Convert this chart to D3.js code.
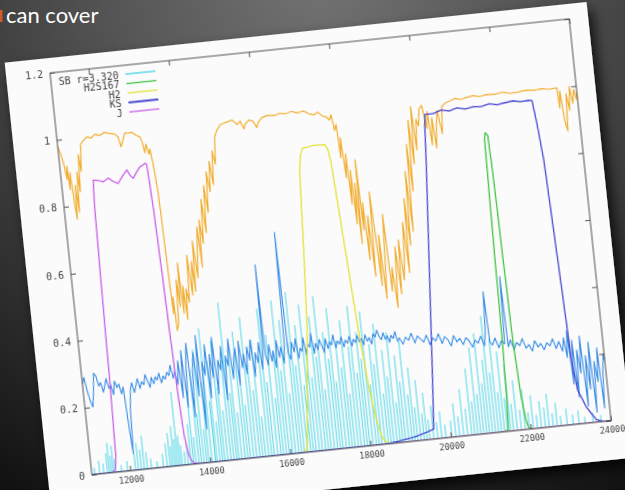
<!DOCTYPE html>
<html>
<head>
<meta charset="utf-8">
<script src="https://cdn.jsdelivr.net/npm/d3@7"></script>
<style>
  html, body { margin: 0; padding: 0; background: #2b2b2b; }
  svg { display: block; }
</style>
</head>
<body>
<div id="chart"></div>
<script>
// ---- data (wavelength in Angstrom, transmission) ----
const xTicks = [12000, 14000, 16000, 18000, 20000, 22000, 24000];
const xTickLabels = ['12000', '14000', '16000', '18000', '20000', '22000', '24000'];
const yTicks = [0, 0.2, 0.4, 0.6, 0.8, 1, 1.2];
const yTickLabels = ['0', '0.2', '0.4', '0.6', '0.8', '1', '1.2'];
const legendLabels = ['SB r=3.320', 'H2S167', 'H2', 'KS', 'J'];

// atmospheric transmission (orange)
const atmosphere = [
  [11040,0.98],[11090,0.96],[11140,0.93],[11190,0.88],[11215,0.92],[11240,0.85],[11275,0.9],[11315,0.8],
  [11340,0.76],[11375,0.86],[11410,0.78],[11450,0.9],[11485,0.84],[11525,0.95],[11560,0.9],[11610,0.98],
  [11685,0.99],[11785,1.0],[11885,0.995],[11985,1.005],[12110,1.0],[12230,1.008],[12355,1.003],[12480,1.0],
  [12555,0.99],[12605,0.96],[12655,0.975],[12730,1.0],[12805,0.998],[12900,1.0],[13000,0.99],[13100,0.983],
  [13150,0.96],[13175,0.935],[13225,0.96],[13275,0.93],[13310,0.945],[13350,0.9],[13400,0.82],[13425,0.7],
  [13450,0.55],[13475,0.45],[13500,0.5],[13525,0.4],[13575,0.42],[13620,0.55],[13660,0.47],[13695,0.6],
  [13735,0.45],[13770,0.53],[13810,0.43],[13845,0.52],[13895,0.48],[13945,0.62],[13995,0.5],[14045,0.6],
  [14080,0.51],[14120,0.66],[14170,0.55],[14220,0.63],[14270,0.7],[14305,0.58],[14340,0.72],[14390,0.65],
  [14440,0.78],[14490,0.68],[14540,0.82],[14590,0.74],[14640,0.86],[14690,0.8],[14740,0.89],[14790,0.82],
  [14840,0.92],[14890,0.88],[14940,0.96],[15015,0.98],[15110,0.995],[15260,1.0],[15410,1.005],[15535,0.99],
  [15610,1.0],[15685,0.975],[15735,0.99],[15830,1.0],[15930,0.995],[16005,0.975],[16055,0.99],[16155,1.003],
  [16305,1.008],[16455,1.005],[16600,1.01],[16750,1.007],[16900,1.012],[17050,1.006],[17200,1.01],[17320,1.0],
  [17445,0.995],[17545,1.002],[17645,0.99],[17745,0.985],[17820,0.975],[17870,0.99],[17920,0.943],[17970,0.96],
  [18005,0.86],[18040,0.92],[18090,0.8],[18130,0.87],[18165,0.72],[18205,0.82],[18240,0.66],[18280,0.78],
  [18315,0.6],[18350,0.85],[18390,0.64],[18425,0.72],[18465,0.55],[18515,0.68],[18565,0.5],[18615,0.75],
  [18665,0.6],[18700,0.47],[18735,0.62],[18785,0.43],[18835,0.55],[18885,0.68],[18935,0.45],[18985,0.52],
  [19035,0.4],[19075,0.5],[19110,0.58],[19160,0.44],[19210,0.6],[19260,0.48],[19310,0.54],[19360,0.65],
  [19410,0.5],[19455,0.72],[19505,0.58],[19555,0.8],[19605,0.62],[19655,0.88],[19705,0.74],[19755,0.95],
  [19805,0.82],[19855,0.99],[19905,0.86],[19955,0.95],[20005,0.93],[20055,0.98],[20130,0.99],[20205,0.92],
  [20250,0.97],[20300,0.87],[20350,0.95],[20400,0.86],[20450,0.93],[20500,0.97],[20575,0.9],[20625,0.98],
  [20725,0.99],[20850,0.995],[20970,1.0],[21120,0.995],[21270,1.0],[21420,1.003],[21595,0.998],[21765,1.002],
  [21965,1.0],[22165,1.004],[22360,0.998],[22560,1.0],[22760,1.003],[22960,1.0],[23155,1.002],[23330,0.998],
  [23455,1.0],[23515,1.0],[23540,0.94],[23580,0.99],[23630,0.9],[23680,0.87],[23730,0.98],[23780,0.93],
  [23825,1.0],[23875,0.95],[23925,0.99],[23975,0.96],[24000,0.98]
];

// noisy blue curve
const seeing = [
  [11040,0.27],[11090,0.29],[11140,0.25],[11190,0.22],[11240,0.2],[11290,0.24],[11340,0.3],[11390,0.29],
  [11440,0.26],[11490,0.27],[11540,0.24],[11590,0.26],[11635,0.28],[11685,0.25],[11735,0.26],[11785,0.23],
  [11835,0.27],[11885,0.25],[11935,0.26],[11985,0.23],[12035,0.25],[12085,0.12],[12120,0.05],[12160,0.18],
  [12210,0.24],[12255,0.26],[12305,0.23],[12355,0.25],[12405,0.27],[12455,0.24],[12505,0.26],[12555,0.25],
  [12605,0.28],[12655,0.26],[12705,0.24],[12755,0.27],[12805,0.25],[12855,0.27],[12900,0.26],[12950,0.28],
  [13000,0.25],[13050,0.27],[13100,0.26],[13150,0.28],[13200,0.27],[13250,0.3],[13300,0.26],[13350,0.28],
  [13400,0.24],[13450,0.31],[13500,0.2],[13550,0.34],[13600,0.17],[13645,0.3],[13695,0.36],[13745,0.14],
  [13795,0.28],[13845,0.33],[13895,0.2],[13945,0.38],[13995,0.1],[14045,0.3],[14095,0.26],[14145,0.35],
  [14195,0.19],[14245,0.32],[14295,0.25],[14340,0.37],[14390,0.2],[14440,0.3],[14490,0.27],[14540,0.34],
  [14590,0.18],[14640,0.31],[14690,0.28],[14740,0.36],[14790,0.24],[14840,0.3],[14890,0.33],[14940,0.22],
  [14990,0.35],[15040,0.27],[15090,0.31],[15140,0.25],[15185,0.33],[15235,0.29],[15285,0.35],[15335,0.24],
  [15385,0.31],[15435,0.28],[15485,0.34],[15535,0.26],[15585,0.32],[15610,0.57],[15635,0.3],[15685,0.27],
  [15735,0.33],[15785,0.28],[15830,0.31],[15880,0.26],[15930,0.34],[15980,0.29],[16030,0.32],[16080,0.27],
  [16130,0.33],[16170,0.66],[16205,0.3],[16255,0.28],[16305,0.33],[16355,0.3],[16405,0.34],[16455,0.28],
  [16505,0.31],[16550,0.3],[16600,0.34],[16650,0.29],[16700,0.32],[16750,0.31],[16800,0.35],[16850,0.29],
  [16900,0.32],[16950,0.3],[17000,0.33],[17050,0.31],[17100,0.29],[17150,0.33],[17200,0.3],[17250,0.32],
  [17295,0.31],[17345,0.34],[17395,0.3],[17445,0.32],[17495,0.31],[17545,0.33],[17595,0.3],[17645,0.32],
  [17695,0.31],[17745,0.33],[17795,0.3],[17845,0.32],[17895,0.31],[17945,0.33],[17990,0.31],[18040,0.32],
  [18090,0.3],[18140,0.33],[18190,0.31],[18240,0.32],[18290,0.3],[18340,0.33],[18390,0.32],[18440,0.34],
  [18490,0.32],[18540,0.31],[18590,0.33],[18640,0.31],[18690,0.32],[18735,0.3],[18785,0.32],[18835,0.31],
  [18885,0.33],[18935,0.3],[18985,0.31],[19060,0.29],[19135,0.31],[19210,0.3],[19285,0.32],[19360,0.29],
  [19430,0.31],[19505,0.3],[19580,0.29],[19655,0.31],[19730,0.28],[19805,0.3],[19880,0.29],[19955,0.31],
  [20030,0.28],[20105,0.3],[20175,0.29],[20250,0.27],[20325,0.3],[20400,0.28],[20475,0.29],[20550,0.27],
  [20625,0.29],[20700,0.28],[20775,0.26],[20850,0.28],[20920,0.27],[20995,0.29],[21070,0.26],[21120,0.3],
  [21170,0.42],[21210,0.27],[21270,0.26],[21345,0.28],[21420,0.25],[21495,0.27],[21570,0.26],[21620,0.46],
  [21655,0.25],[21720,0.27],[21790,0.24],[21865,0.26],[21940,0.25],[22015,0.27],[22090,0.24],[22165,0.25],
  [22240,0.23],[22315,0.26],[22390,0.24],[22460,0.25],[22535,0.23],[22610,0.25],[22685,0.24],[22760,0.26],
  [22835,0.23],[22910,0.25],[22985,0.22],[23035,0.26],[23085,0.2],[23130,0.28],[23180,0.12],[23230,0.25],
  [23280,0.08],[23330,0.22],[23380,0.15],[23430,0.26],[23480,0.05],[23530,0.2],[23580,0.1],[23630,0.24],
  [23680,0.03],[23730,0.18],[23780,0.12],[23830,0.22],[23875,0.04],[23925,0.15],[23975,0.2],[24000,0.18]
];

// sky emission lines (SB): wavelength, peak
const skyLines = [
  [11115,0.02],[11240,0.04],[11340,0.03],[11435,0.06],[11485,0.09],[11535,0.05],[11585,0.08],[11635,0.04],
  [11785,0.02],[11935,0.03],[12135,0.05],[12205,0.08],[12280,0.06],[12355,0.1],[12430,0.05],[12530,0.03],
  [12680,0.02],[12830,0.04],[12925,0.07],[13000,0.1],[13050,0.06],[13100,0.12],[13150,0.08],[13200,0.22],
  [13250,0.09],[13300,0.06],[13375,0.04],
  [13450,0.06],[13525,0.12],[13590,0.2],[13645,0.08],[13720,0.28],[13780,0.15],[13845,0.34],[13915,0.1],
  [13970,0.24],[14045,0.4],[14130,0.18],[14170,0.3],[14245,0.12],[14310,0.36],[14365,0.22],[14440,0.15],
  [14520,0.3],[14590,0.47],[14660,0.2],[14715,0.33],[14790,0.14],[14870,0.38],[14940,0.25],[15005,0.16],
  [15085,0.42],[15160,0.28],[15240,0.2],[15310,0.35],[15380,0.12],[15460,0.3],[15535,0.44],[15600,0.22],
  [15685,0.36],[15765,0.17],[15830,0.31],[15905,0.46],[15975,0.25],[16055,0.4],[16130,0.18],[16210,0.33],
  [16280,0.48],[16350,0.26],[16430,0.38],[16510,0.2],[16575,0.44],[16645,0.3],[16725,0.22],[16800,0.4],
  [16880,0.28],[16950,0.46],[17020,0.18],[17100,0.35],[17180,0.27],[17250,0.42],[17315,0.2],[17395,0.32],
  [17475,0.24],[17545,0.38],[17615,0.16],[17695,0.3],[17770,0.42],[17850,0.22],[17920,0.34],[17985,0.26],
  [18065,0.4],[18145,0.18],[18215,0.3],[18285,0.24],[18365,0.36],[18445,0.15],[18515,0.28],[18585,0.2],
  [18665,0.33],[18740,0.12],[18810,0.26],[18880,0.18],[18960,0.3],[19040,0.14],[19110,0.22],[19180,0.1],
  [19260,0.18],[19340,0.08],[19410,0.14],[19480,0.06],[19580,0.1],[19680,0.05],[19780,0.08],[19880,0.04],
  [20030,0.05],[20130,0.1],[20225,0.06],[20325,0.14],[20425,0.08],[20525,0.2],[20600,0.1],[20675,0.26],
  [20750,0.12],[20825,0.3],[20900,0.15],[20970,0.22],[21045,0.35],[21120,0.18],[21195,0.28],[21270,0.12],
  [21345,0.24],[21420,0.1],[21495,0.2],[21570,0.08],[21665,0.15],[21765,0.06],[21865,0.12],[21965,0.05],
  [22065,0.1],[22165,0.04],[22265,0.08],[22365,0.06],[22460,0.1],[22560,0.04],[22660,0.07],[22760,0.03],
  [22910,0.05],[23060,0.03],[23205,0.04],[23355,0.02],[23555,0.03],[23755,0.02]
];

// filter curves
const filterH2S1 = [
  [11040,0],[21300,0],[21440,0.005],[21480,0.1],[21520,0.27],[21560,0.6],[21600,0.87],[21630,0.89],
  [21660,0.885],[21690,0.88],[21720,0.75],[21750,0.5],[21780,0.27],[21840,0.1],[21900,0.03],[21950,0.005],
  [22050,0],[24000,0]
];
const filterH2 = [
  [11040,0],[16300,0],[16430,0.01],[16550,0.15],[16730,0.36],[16850,0.6],[16950,0.83],[17010,0.88],
  [17080,0.9],[17200,0.902],[17350,0.905],[17500,0.905],[17650,0.903],[17700,0.89],[17750,0.85],[17870,0.6],
  [17990,0.35],[18100,0.18],[18200,0.08],[18310,0.02],[18420,0.003],[18550,0],[24000,0]
];
const filterJ = [
  [11040,0],[11550,0],[11640,0.01],[11680,0.05],[11720,0.25],[11760,0.55],[11800,0.8],[11832,0.87],
  [11950,0.868],[12073,0.862],[12207,0.872],[12320,0.86],[12440,0.853],[12560,0.872],[12684,0.89],[12760,0.872],
  [12823,0.863],[12920,0.88],[13019,0.895],[13100,0.9],[13153,0.904],[13190,0.9],[13210,0.86],[13250,0.75],
  [13290,0.58],[13330,0.39],[13370,0.22],[13420,0.09],[13470,0.04],[13520,0.015],[13600,0.003],[13800,0],
  [24000,0]
];
const filterKs = [
  [11040,0],[18400,0],[18700,0.005],[19100,0.012],[19400,0.022],[19600,0.03],[19700,0.18],[19800,0.34],
  [19900,0.5],[20000,0.66],[20100,0.82],[20160,0.93],[20190,0.962],[20400,0.962],[20600,0.97],[20800,0.965],
  [21000,0.972],[21200,0.966],[21400,0.97],[21600,0.968],[21800,0.974],[22000,0.969],[22200,0.972],[22400,0.975],
  [22600,0.97],[22800,0.972],[22870,0.97],[22935,0.9],[23010,0.79],[23095,0.5],[23180,0.19],[23255,0.1],
  [23425,0.048],[23640,0.008],[23830,0],[24000,0]
];

// ---- layout ----
const W = 625, H = 490;
const plotW = 522, plotH = 404;
const originX = 50, originY = 73, tilt = -5.95;

const colors = {
  sky: '#3fd4e6',
  seeing: '#3a8de6',
  atmosphere: '#f2ae30',
  h2s1: '#3fc43f',
  h2: '#e2e236',
  ks: '#4646d2',
  j: '#c95fe9'
};

const x = d3.scaleLinear().domain([11040, 24000]).range([0, plotW]);
const y = d3.scaleLinear().domain([0, 1.2]).range([plotH, 0]);

const svg = d3.select('#chart').append('svg')
  .attr('width', W)
  .attr('height', H);

const defs = svg.append('defs');

const bg = defs.append('radialGradient')
  .attr('id', 'bg')
  .attr('gradientUnits', 'userSpaceOnUse')
  .attr('cx', 320).attr('cy', -30).attr('r', 600);
bg.append('stop').attr('offset', 0).attr('stop-color', '#747474');
bg.append('stop').attr('offset', 0.35).attr('stop-color', '#555555');
bg.append('stop').attr('offset', 0.7).attr('stop-color', '#323232');
bg.append('stop').attr('offset', 1).attr('stop-color', '#121212');

defs.append('filter').attr('id', 'shadow')
  .attr('x', '-10%').attr('y', '-10%').attr('width', '125%').attr('height', '130%')
  .append('feDropShadow')
    .attr('dx', 4).attr('dy', 8).attr('stdDeviation', 7)
    .attr('flood-color', '#000').attr('flood-opacity', 0.85);

defs.append('filter').attr('id', 'soft')
  .append('feGaussianBlur').attr('stdDeviation', 0.45);

defs.append('clipPath').attr('id', 'plotclip')
  .append('rect').attr('width', plotW).attr('height', plotH);

svg.append('rect').attr('width', W).attr('height', H).attr('fill', 'url(#bg)');

// slide title
svg.append('rect').attr('x', 0).attr('y', 10).attr('width', 2.5).attr('height', 12).attr('fill', '#cf5a2e');
svg.append('text')
  .attr('x', 6).attr('y', 23)
  .attr('font-family', 'Lato, "Open Sans", sans-serif')
  .attr('font-size', 22)
  .attr('fill', '#ffffff')
  .text('can cover');

// tilted sheet of paper
const sheet = svg.append('g')
  .attr('transform', `translate(${originX},${originY}) rotate(${tilt})`);

sheet.append('rect')
  .attr('x', -44).attr('y', -15)
  .attr('width', 585).attr('height', 458)
  .attr('fill', '#fbfbfb')
  .attr('filter', 'url(#shadow)');

const g = sheet.append('g').attr('filter', 'url(#soft)');

const plot = g.append('g').attr('clip-path', 'url(#plotclip)');
const line = d3.line().x(d => x(d[0])).y(d => y(d[1]));

// sky lines as needles
plot.append('g').selectAll('line')
  .data(skyLines)
  .enter().append('line')
    .attr('x1', d => x(d[0])).attr('x2', d => x(d[0]))
    .attr('y1', y(0)).attr('y2', d => y(d[1]))
    .attr('stroke', colors.sky)
    .attr('stroke-width', 1)
    .attr('opacity', 0.9);

const series = [
  { data: seeing, color: colors.seeing, w: 1.1 },
  { data: atmosphere, color: colors.atmosphere, w: 1.2 },
  { data: filterH2, color: colors.h2, w: 1.3 },
  { data: filterH2S1, color: colors.h2s1, w: 1.3 },
  { data: filterJ, color: colors.j, w: 1.3 },
  { data: filterKs, color: colors.ks, w: 1.3 }
];

plot.selectAll('path.series')
  .data(series)
  .enter().append('path')
    .attr('class', 'series')
    .attr('d', d => line(d.data))
    .attr('fill', 'none')
    .attr('stroke', d => d.color)
    .attr('stroke-width', d => d.w)
    .attr('stroke-linejoin', 'round');

// axes (gnuplot style: inward ticks mirrored on all sides)
const tickFont = '"DejaVu Sans Mono", "Liberation Mono", monospace';

const yAxis = g.append('g')
  .call(d3.axisLeft(y).tickValues(yTicks).tickFormat((d, i) => yTickLabels[i]).tickSize(-5).tickPadding(7));
const yAxisR = g.append('g').attr('transform', `translate(${plotW},0)`)
  .call(d3.axisRight(y).tickValues(yTicks).tickFormat('').tickSize(-5));
const xAxis = g.append('g').attr('transform', `translate(0,${plotH})`)
  .call(d3.axisBottom(x).tickValues(xTicks).tickFormat((d, i) => xTickLabels[i]).tickSize(-5).tickPadding(6));
const xAxisT = g.append('g')
  .call(d3.axisTop(x).tickValues(xTicks).tickFormat('').tickSize(-5));

[yAxis, yAxisR, xAxis, xAxisT].forEach(a => {
  a.select('.domain').remove();
  a.selectAll('line').attr('stroke', '#555');
  a.selectAll('text').attr('fill', '#444').attr('font-family', tickFont);
});
yAxis.selectAll('text').attr('font-size', 10);
xAxis.selectAll('text').attr('font-size', 8.5);

g.append('rect')
  .attr('width', plotW).attr('height', plotH)
  .attr('fill', 'none')
  .attr('stroke', '#555')
  .attr('stroke-width', 1);

// legend
const legendColors = [colors.sky, colors.h2s1, colors.h2, colors.ks, colors.j];
const lg = g.append('g').selectAll('g')
  .data(legendLabels)
  .enter().append('g')
    .attr('transform', (d, i) => `translate(0,${9 + i * 9.5})`);

lg.append('text')
  .attr('x', 68)
  .attr('dy', '0.35em')
  .attr('text-anchor', 'end')
  .attr('font-family', tickFont)
  .attr('font-size', 10)
  .attr('fill', '#444')
  .text(d => d);

lg.append('line')
  .attr('x1', 75).attr('x2', 105)
  .attr('stroke', (d, i) => legendColors[i])
  .attr('stroke-width', (d, i) => i === 3 ? 2 : 1.3);
</script>
</body>
</html>
